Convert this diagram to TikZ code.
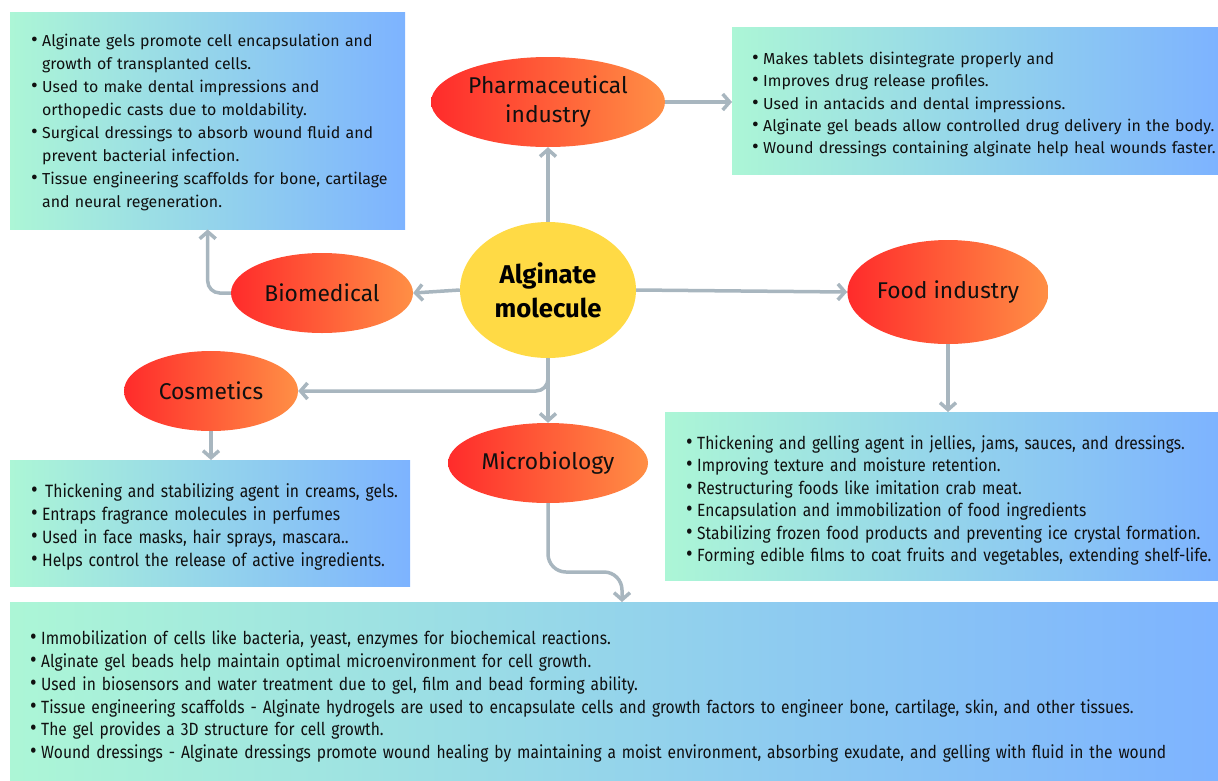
\documentclass[tikz,border=0pt]{standalone}
\usepackage{fontspec}
\setmainfont{Fira Sans}
\newfontfamily\condfont[FakeStretch=0.88]{Fira Sans}
\usetikzlibrary{shapes.geometric,arrows.meta}
\definecolor{argray}{HTML}{A8B6BF}
\definecolor{mintc}{HTML}{ACF6D6}
\definecolor{bluec}{HTML}{7DB3FF}
\definecolor{redc}{HTML}{FF2B2B}
\definecolor{orangec}{HTML}{FF8F45}
\definecolor{yellowc}{HTML}{FFDA45}
\definecolor{textc}{HTML}{101010}
\newlength\bw
\setlength\bw{11pt}
\newcommand{\itm}[1]{\par\hangindent=\bw\hangafter=1\noindent\makebox[\bw][l]{\scalebox{1.3}{\textbullet}}#1}
\begin{document}
\begin{tikzpicture}[x=1pt,y=-1pt,
 box/.style={rectangle, inner sep=0pt, anchor=north west, left color=mintc, right color=bluec, draw=none},
 oval/.style={ellipse, inner sep=0pt, left color=redc, right color=orangec, draw=none, font=\fontsize{22.8}{29}\selectfont, align=center, text=textc},
 conn/.style={draw=argray, line width=3.5pt, -{Straight Barb[length=7pt,width=16pt]}, rounded corners=12pt},
 txt/.style={anchor=west, inner sep=0pt, align=left, text width=#1, text=textc},
]
\useasboundingbox (0,0) rectangle (1218,780);
% boxes
\node[box, minimum width=395pt, minimum height=217pt] (bbox) at (10,12) {};
\node[box, minimum width=486pt, minimum height=147pt] (pbox) at (732,27) {};
\node[box, minimum width=553pt, minimum height=168pt] (fbox) at (665,412) {};
\node[box, minimum width=400pt, minimum height=126pt] (cbox) at (10,460) {};
\node[box, minimum width=1208pt, minimum height=178pt] (mbox) at (10,602) {};
% box texts
\node[txt=385pt, font=\fontsize{15.9}{23}\selectfont] (btxt) at ([xshift=21pt,yshift=4pt]bbox.west) {%
\itm{Alginate gels promote cell encapsulation and\newline growth of transplanted cells.}
\itm{Used to make dental impressions and\newline orthopedic casts due to moldability.}
\itm{Surgical dressings to absorb wound fluid and\newline prevent bacterial infection.}
\itm{Tissue engineering scaffolds for bone, cartilage\newline and neural regeneration.}\par};
\node[txt=480pt, font=\fontsize{15.9}{22.3}\selectfont] (ptxt) at ([xshift=20pt,yshift=1pt]pbox.west) {%
\itm{Makes tablets disintegrate properly and}
\itm{Improves drug release profiles.}
\itm{Used in antacids and dental impressions.}
\itm{Alginate gel beads allow controlled drug delivery in the body.}
\itm{Wound dressings containing alginate help heal wounds faster.}\par};
\node[txt=545pt, font=\condfont\fontsize{17.7}{22.4}\selectfont] (ftxt) at ([xshift=21pt]fbox.west) {%
\itm{Thickening and gelling agent in jellies, jams, sauces, and dressings.}
\itm{Improving texture and moisture retention.}
\itm{Restructuring foods like imitation crab meat.}
\itm{Encapsulation and immobilization of food ingredients}
\itm{Stabilizing frozen food products and preventing ice crystal formation.}
\itm{Forming edible films to coat fruits and vegetables, extending shelf-life.}\par};
\node[txt=395pt, font=\condfont\fontsize{17.85}{23}\selectfont] (ctxt) at ([xshift=21pt,yshift=1pt]cbox.west) {%
\itm{\hspace{3pt}Thickening and stabilizing agent in creams, gels.}
\itm{Entraps fragrance molecules in perfumes}
\itm{Used in face masks, hair sprays, mascara..}
\itm{Helps control the release of active ingredients.}\par};
\node[txt=1195pt, font=\condfont\fontsize{17.7}{22.8}\selectfont] (mtxt) at ([xshift=20pt,yshift=-1pt]mbox.west) {%
\itm{Immobilization of cells like bacteria, yeast, enzymes for biochemical reactions.}
\itm{Alginate gel beads help maintain optimal microenvironment for cell growth.}
\itm{Used in biosensors and water treatment due to gel, film and bead forming ability.}
\itm{Tissue engineering scaffolds - Alginate hydrogels are used to encapsulate cells and growth factors to engineer bone, cartilage, skin, and other tissues.}
\itm{The gel provides a 3D structure for cell growth.}
\itm{Wound dressings - Alginate dressings promote wound healing by maintaining a moist environment, absorbing exudate, and gelling with fluid in the wound}\par};
% ovals
\node[oval, minimum width=234pt, minimum height=90pt] (ph) at (548,102) {Pharmaceutical\\industry};
\node[oval, minimum width=182pt, minimum height=80pt] (bio) at (322,293) {Biomedical};
\node[oval, minimum width=194pt, minimum height=104pt] (food) at (948,292) {Food industry};
\node[oval, minimum width=174pt, minimum height=80pt] (cos) at (211,391) {Cosmetics};
\node[oval, minimum width=200pt, minimum height=80pt] (mic) at (548,463) {Microbiology};
\node[ellipse, fill=yellowc, inner sep=0pt, minimum width=176pt, minimum height=136pt, font=\bfseries\fontsize{25.7}{34}\selectfont, align=center, text=black] (alg) at (548,290) {Alginate\\molecule};
% connectors
\coordinate (mend) at (622,602);
\draw[conn] (alg.north) -- (ph.south);
\draw[conn] (ph.east) -- (pbox.west |- ph.east);
\draw[conn] (alg.west) -- (bio.east);
\draw[conn] (bio.west) -| (bbox.south);
\draw[conn] (alg.east) -- (food.west);
\draw[conn] (food.south) -- (food.south |- fbox.north);
\draw[conn] (alg.south) |- (cos.east);
\draw[conn] (alg.south) -- (mic.north);
\draw[conn] (cos.south) -- (cos.south |- cbox.north);
\draw[conn, rounded corners=18pt] (mic.south) -- (548,572) -- (622,572) -- (mend);
\end{tikzpicture}
\end{document}
